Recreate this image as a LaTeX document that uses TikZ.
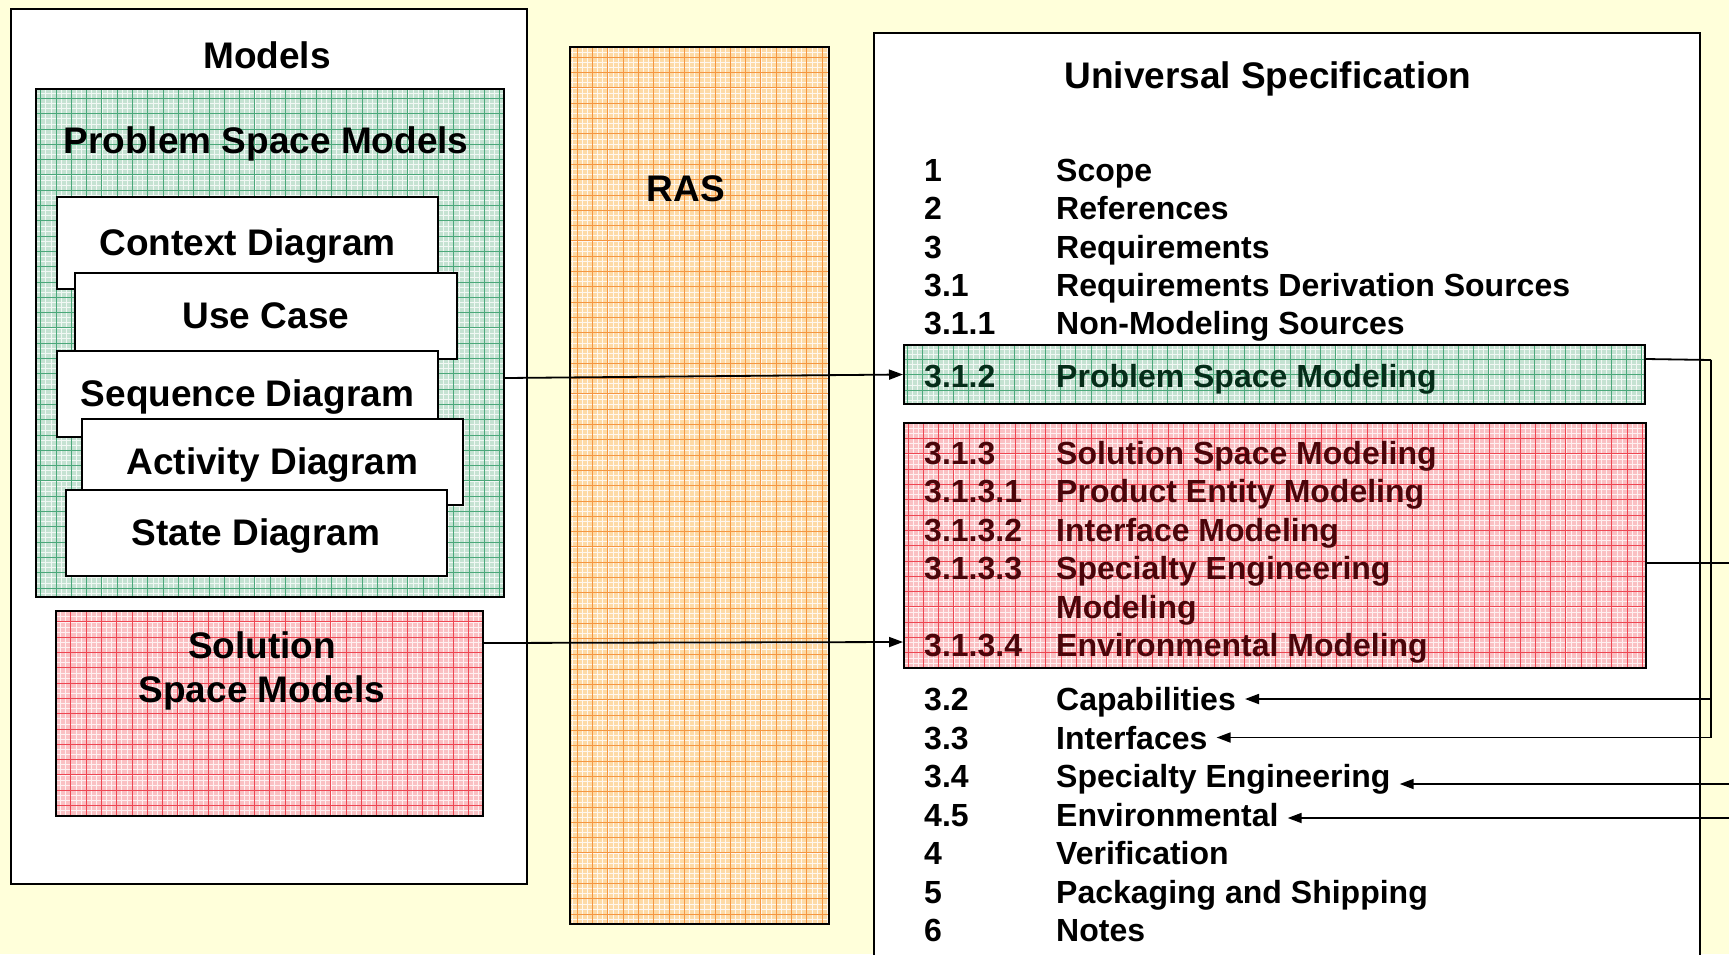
\documentclass[tikz,border=0pt]{standalone}
\usepackage{fontspec}
\setmainfont{Liberation Sans}
\usetikzlibrary{arrows.meta,positioning,calc}

\definecolor{bgcream}{RGB}{255,255,218}
\definecolor{psfill}{RGB}{197,226,210}
\definecolor{psline}{RGB}{75,168,122}
\definecolor{ssfill}{RGB}{250,192,195}
\definecolor{ssline}{RGB}{238,70,82}
\definecolor{rasfill}{RGB}{253,218,166}
\definecolor{rasline}{RGB}{245,150,65}
\definecolor{pstext}{RGB}{5,45,25}
\definecolor{sstext}{RGB}{75,5,10}

\newcommand{\bigfont}{\fontsize{37}{44}\selectfont\bfseries}
\newcommand{\listfont}{\fontsize{32}{38}\selectfont\bfseries}

\begin{document}
\begin{tikzpicture}[x=1pt, y=-1pt,
    frame/.style={draw, line width=2pt, fill=white, inner sep=0pt},
    gridded/.style 2 args={draw, line width=2pt, fill=#1, inner sep=0pt,
      path picture={
        \draw[#2!8, line width=0.4pt, step=5.1pt] (path picture bounding box.south west) grid (path picture bounding box.north east);
        \draw[#2, line width=0.5pt, step=15.3pt] (path picture bounding box.south west) grid (path picture bounding box.north east);}},
    card/.style={frame, minimum width=381, minimum height=86, font=\bigfont, text height=27pt, text depth=1.5pt},
    hd/.style={font=\bigfont, inner sep=0pt},
    num/.style={anchor=base west, font=\listfont, inner sep=0pt},
    item/.style={anchor=base west, font=\listfont, inner xsep=9pt, inner ysep=0pt, text height=27pt, text depth=4pt},
    arr/.style={-{Triangle[length=14pt,width=10pt]}, line width=1.8pt},
    wire/.style={line width=1.8pt}]

  \fill[bgcream] (0,0) rectangle (1729,954);
  \clip (0,0) rectangle (1729,954);

  % models column
  \node[frame, minimum width=516, minimum height=875] (mdl) at (269,446.5) {};
  \node[hd] (mdlt) at (267,55) {Models};
  \node[gridded={psfill}{psline}, minimum width=468, minimum height=508] (psm) at (270,343) {};
  \node[hd] (psmt) at (266,144) {Problem Space Models};
  \node[card, minimum height=92] (ctx) at (247.5,243) {Context Diagram};
  \node[card, minimum width=382] (uc) at (266,316) {Use Case};
  \node[card] (seq) at (247.5,394) {Sequence Diagram};
  \node[card] (act) at (272.5,462) {Activity Diagram};
  \node[card] (st) at (256,532.5) {State Diagram};
  \node[gridded={ssfill}{ssline}, minimum width=427, minimum height=205] (ssm) at (269.5,713.5) {};
  \node[hd, align=center] (ssmt) at (262,671) {Solution\\Space Models};

  % RAS
  \node[gridded={rasfill}{rasline}, minimum width=259, minimum height=877] (ras) at (699.5,485.5) {};
  \node[hd] (rast) at (686,189) {RAS};

  % specification
  \node[frame, minimum width=826, minimum height=967] (spec) at (1287,516.5) {};
  \node[hd] (spect) at (1268,79) {Universal Specification};
  \node[gridded={psfill}{psline}, minimum width=741, minimum height=59] (hl) at (1274.5,374.5) {};
  \node[gridded={ssfill}{ssline}, minimum width=742, minimum height=245] (shl) at (1275,545.5) {};

  \foreach \nm/\tx [count=\i] in {1/Scope, 2/References, 3/Requirements,
      3.1/Requirements Derivation Sources, 3.1.1/Non-Modeling Sources} {
    \node[num] (n\i) at (924,{181.5+(\i-1)*38.3}) {\nm};
    \node[item] (t\i) at (1047,{181.5+(\i-1)*38.3}) {\tx};
  }
  \node[num, text=pstext] (np) at (924,387.5) {3.1.2};
  \node[item, text=pstext] (tp) at (1047,387.5) {Problem Space Modeling};
  \foreach \nm/\tx [count=\i] in {3.1.3/Solution Space Modeling, 3.1.3.1/Product Entity Modeling,
      3.1.3.2/Interface Modeling, 3.1.3.3/Specialty Engineering, /Modeling,
      3.1.3.4/Environmental Modeling} {
    \node[num, text=sstext] (m\i) at (924,{464.5+(\i-1)*38.4}) {\nm};
    \node[item, text=sstext] (s\i) at (1047,{464.5+(\i-1)*38.4}) {\tx};
  }
  \foreach \nm/\tx [count=\i] in {3.2/Capabilities, 3.3/Interfaces, 3.4/Specialty Engineering,
      4.5/Environmental, 4/Verification, 5/Packaging and Shipping, 6/Notes} {
    \node[num] (k\i) at (924,{710.5+(\i-1)*38.5}) {\nm};
    \node[item] (u\i) at (1047,{710.5+(\i-1)*38.5}) {\tx};
  }

  % connectors
  \draw[arr] ([yshift=-35]psm.east) -- (hl.west);
  \draw[arr] ([yshift=70.5]ssm.east) -- ([yshift=-96.5]shl.west);

  \coordinate (pj) at (1711,360);
  \draw[wire] ([yshift=-15]hl.north east) -- (pj);
  \draw[arr] (pj) |- (u1.east);
  \draw[arr] (pj) |- (u2.east);
  \coordinate (rs) at (1729,563);
  \draw[wire] (shl.east |- rs) -- (rs);
  \coordinate (se) at (1729,784);
  \draw[arr] (se) -- (u3.east |- se);
  \coordinate (ev) at (1729,818);
  \draw[arr] (ev) -- (u4.east |- ev);
\end{tikzpicture}
\end{document}
